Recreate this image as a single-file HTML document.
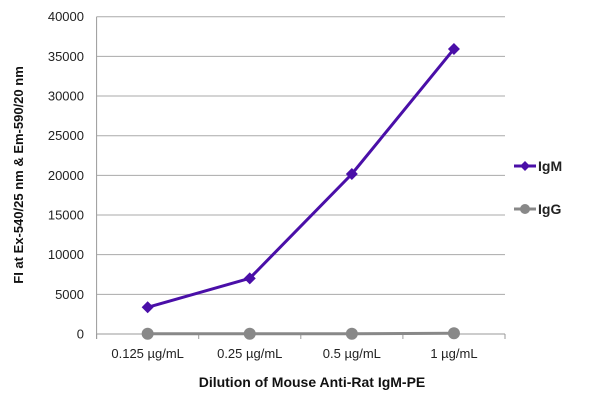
<!DOCTYPE html>
<html><head><meta charset="utf-8"><style>body{margin:0;background:#fff}svg{display:block;font-family:"Liberation Sans",sans-serif}</style></head>
<body>
<svg width="600" height="404" id="c"></svg>
<script>
const categories=["0.125 µg/mL","0.25 µg/mL","0.5 µg/mL","1 µg/mL"];
const igmValues=[3366,7020,20170,35930];
const iggValues=[30,30,30,100];
const yTicks=[0,5000,10000,15000,20000,25000,30000,35000,40000];
const NS="http://www.w3.org/2000/svg",svg=document.getElementById('c');
const L=96.6,R=505,T=16.7,B=334,yMax=40000;
const y=v=>B-(v/yMax)*(B-T);
const bw=(R-L)/categories.length;
const x=i=>L+bw*(i+0.5);
function mk(t,a,p){const e=document.createElementNS(NS,t);for(const k in a)e.setAttribute(k,a[k]);(p||svg).appendChild(e);return e;}
yTicks.forEach(v=>{
 const g=mk('line',{x1:L,x2:R,y1:y(v),y2:y(v),stroke:v===0?'#999':'#aaa','stroke-width':1});
 
 
 const t=mk('text',{x:84,y:y(v)+4.5,'text-anchor':'end','font-size':13,fill:'#222'});t.textContent=v;
 
 
});
mk('line',{x1:L,x2:L,y1:T,y2:B+5,stroke:'#999'});
for(let i=0;i<=categories.length;i++){mk('line',{x1:L+bw*i,x2:L+bw*i,y1:B,y2:B+5,stroke:'#999'});}
categories.forEach((c,i)=>{const t=mk('text',{x:x(i),y:358,'text-anchor':'middle','font-size':13,fill:'#222'});t.textContent=c;
 
 });
function series(vals,color,shape,name){
 const g=mk('g',{});
 
 
 mk('polyline',{points:vals.map((v,i)=>x(i)+','+y(v)).join(' '),fill:'none',stroke:color,'stroke-width':3},g);
 vals.forEach((v,i)=>{let m;
  if(shape==='d'){m=mk('path',{d:`M${x(i)} ${y(v)-6}L${x(i)+6} ${y(v)}L${x(i)} ${y(v)+6}L${x(i)-6} ${y(v)}Z`,fill:color},g);}
  else m=mk('circle',{cx:x(i),cy:y(v),r:6,fill:color},g);
  
  });
}
series(iggValues,'#888','c','igg');
series(igmValues,'#4a0fa8','d','igm');
// legend
[[166,'#4a0fa8','d','IgM'],[209,'#888','c','IgG']].forEach(([ly,col,s,n])=>{
 const g=mk('g',{});
 
 
 mk('line',{x1:514,x2:536,y1:ly,y2:ly,stroke:col,'stroke-width':3},g);
 if(s==='d')mk('path',{d:`M525 ${ly-5}L530 ${ly}L525 ${ly+5}L520 ${ly}Z`,fill:col},g);else mk('circle',{cx:525,cy:ly,r:5,fill:col},g);
 const t=mk('text',{x:538,y:ly+5,'font-size':14,'font-weight':'bold',fill:'#222'},g);t.textContent=n;
});
const xt=mk('text',{x:312,y:387,'text-anchor':'middle','font-size':14,'font-weight':'bold',fill:'#111'});xt.textContent='Dilution of Mouse Anti-Rat IgM-PE';


const yt=mk('text',{x:0,y:0,'text-anchor':'middle','font-size':13,'font-weight':'bold',fill:'#111',transform:'translate(23,175) rotate(-90)'});yt.textContent='FI at Ex-540/25 nm & Em-590/20 nm';


</script>
</body></html>
